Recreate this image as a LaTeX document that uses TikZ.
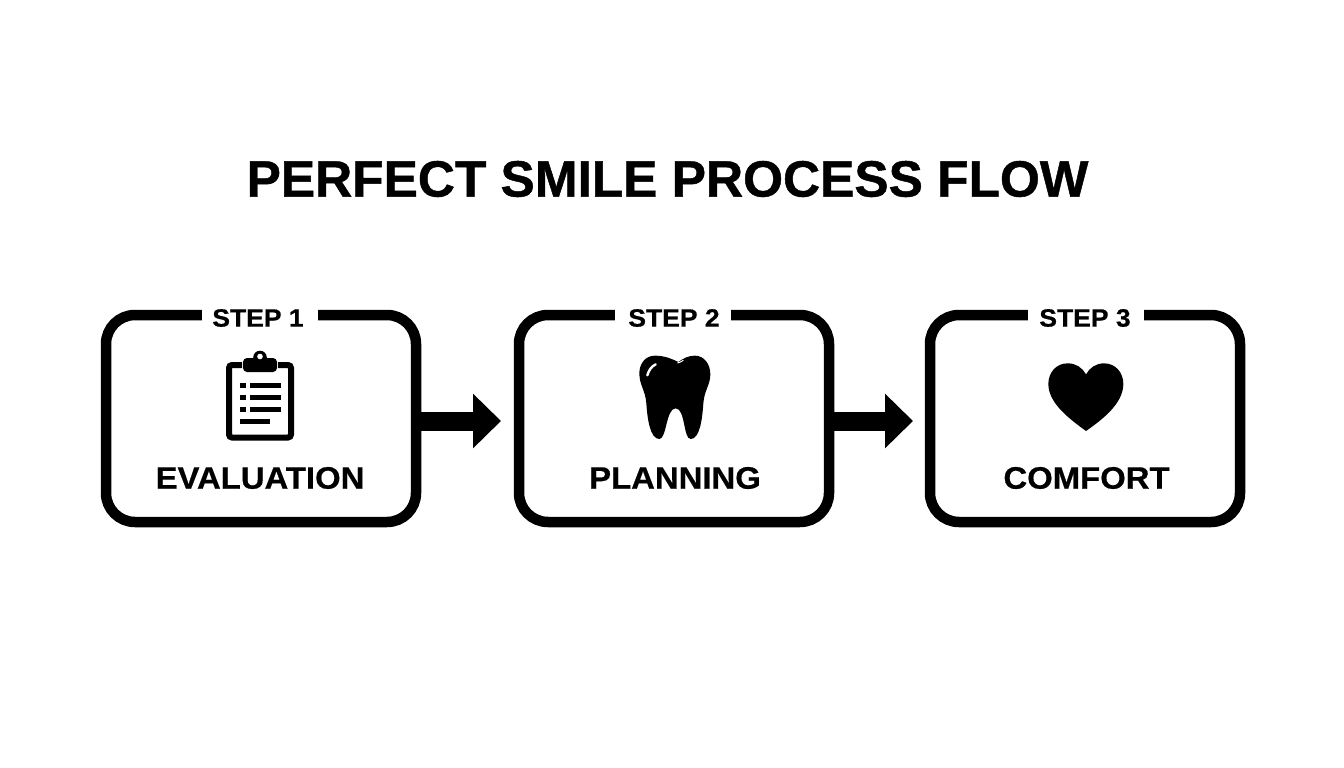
\documentclass[tikz,border=0pt]{standalone}
\usepackage{fontspec}
\setmainfont{Liberation Sans}[BoldFont={Liberation Sans Bold},BoldFeatures={FakeStretch=1.06,FakeBold=0.6}]
\newfontfamily\titlefont{Liberation Sans Bold}[FakeStretch=1.007,FakeBold=0.9]
\usetikzlibrary{arrows.meta}
\tikzset{
  stepbox/.style={draw=black,line width=10.5pt,rounded corners=29pt,minimum width=310pt,minimum height=207pt,outer sep=0pt,inner sep=0pt},
  steptag/.style={fill=white,inner sep=0pt,minimum width=116pt,minimum height=16pt},
  steplabel/.style={inner sep=0pt,font=\fontsize{25}{25}\selectfont\bfseries},
  namelabel/.style={inner sep=0pt,font=\fontsize{31}{31}\selectfont\bfseries},
  flowarrow/.style={line width=19pt,-{Triangle[length=28pt,width=53pt]}},
  icon/.style={fill=black,draw=none},
  iconline/.style={draw=black,line width=6pt}
}
\begin{document}
\begin{tikzpicture}[x=1pt,y=-1pt]
\useasboundingbox (0,0) rectangle (1344,768);
\fill[white] (0,0) rectangle (1344,768);
\node[inner sep=0pt,font=\fontsize{51}{52}\titlefont] (title) at (667.5,179) {PERFECT SMILE PROCESS FLOW};

\node[stepbox] (b1) at (261,418.5) {};
\node[stepbox] (b2) at (674,418.5) {};
\node[stepbox] (b3) at (1085,418.5) {};

\node[steptag] (t1) at (260,315) {};
\node[steptag] (t2) at (673,315) {};
\node[steptag] (t3) at (1085.5,315) {};
\node[steplabel] (s1) at (258,318) {STEP 1};
\node[steplabel] (s2) at (674,318) {STEP 2};
\node[steplabel] (s3) at (1085,318) {STEP 3};

\node[namelabel] (n1) at (260,478) {EVALUATION};
\node[namelabel] (n2) at (675,478) {PLANNING};
\node[namelabel] (n3) at (1086.5,478) {COMFORT};

\draw[flowarrow,shorten >=18pt] ([yshift=-2.5pt]b1.east) -- ([yshift=-2.5pt]b2.west);
\draw[flowarrow,shorten >=17pt] ([yshift=-2.5pt]b2.east) -- ([yshift=-2.5pt]b3.west);

% clipboard
\draw[iconline,rounded corners=3pt] (242,365) -- (229,365) -- (229,437.5) -- (291,437.5) -- (291,365) -- (278,365);
\fill[icon] (260,357.5) circle (6.8pt);
\fill[icon,rounded corners=4pt] (243,358) rectangle (277,372);
\fill[white] (260,356.5) circle (2.8pt);
\foreach \yy in {385,397,409}{
  \fill[icon] (240,\yy-2.5) rectangle (245.5,\yy+2.5);
  \fill[icon] (250,\yy-2.5) rectangle (280.5,\yy+2.5);
}
\fill[icon] (240,418.5) rectangle (269.5,423.5);

% tooth
\begin{scope}[shift={(600,340)},scale=1/3]
\fill[icon] (235,66)
 .. controls (212,55) and (192,47) .. (165,47)
 .. controls (135,47) and (118,72) .. (118,100)
 .. controls (118,135) and (136,150) .. (139,190)
 .. controls (142,235) and (150,297) .. (178,297)
 .. controls (200,297) and (198,205) .. (227,205)
 .. controls (256,205) and (250,297) .. (272,297)
 .. controls (300,297) and (307,235) .. (310,190)
 .. controls (313,150) and (331,135) .. (331,103)
 .. controls (331,72) and (312,47) .. (285,47)
 .. controls (265,47) and (250,55) .. (235,66) -- cycle;
\draw[white,line width=2.4pt,line cap=round] (142,106) .. controls (146,92) and (153,80) .. (167,73);
\draw[white,line width=1pt] (232,69) .. controls (238,68) and (244,65) .. (250,61);
\end{scope}

% heart
\begin{scope}[shift={(1020,340)},scale=1/3]
\fill[icon] (198,103)
 .. controls (187,83) and (168,70) .. (143,70)
 .. controls (108,70) and (85,98) .. (85,132)
 .. controls (85,190) and (150,238) .. (198,273)
 .. controls (248,238) and (310,190) .. (310,132)
 .. controls (310,98) and (287,70) .. (252,70)
 .. controls (228,70) and (209,83) .. (198,103) -- cycle;
\end{scope}
\end{tikzpicture}
\end{document}
